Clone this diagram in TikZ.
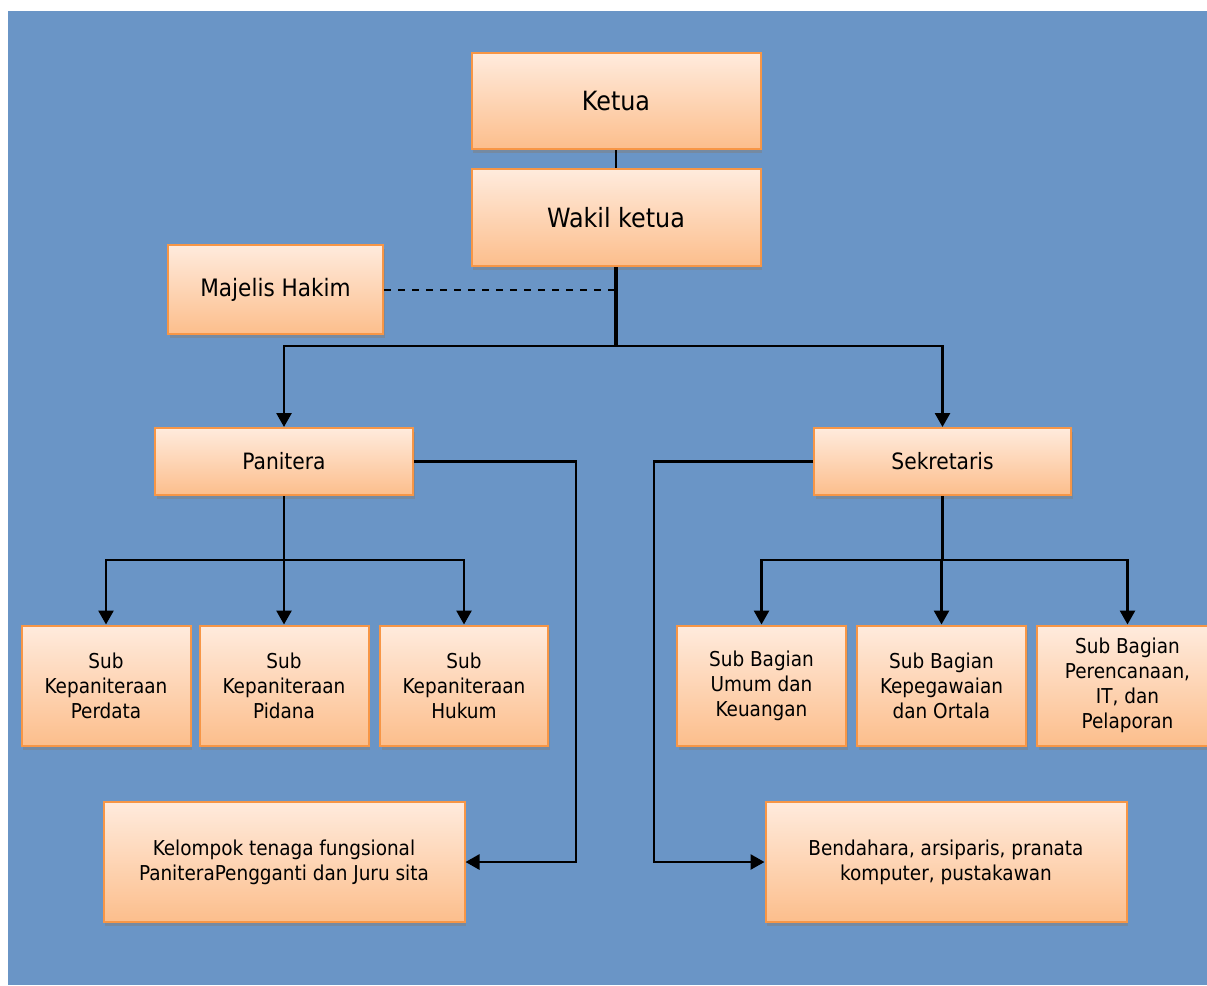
\documentclass[tikz,border=0pt]{standalone}
\usepackage{fontspec}
\setmainfont{DejaVu Sans Condensed}
\usetikzlibrary{arrows.meta, positioning, shadows}
\definecolor{chartBlue}{RGB}{106,149,198}
\definecolor{boxTop}{RGB}{255,235,221}
\definecolor{boxBottom}{RGB}{252,190,140}
\definecolor{boxEdge}{RGB}{247,150,70}
\tikzset{
    unit/.style={draw=boxEdge, line width=2pt, top color=boxTop, bottom color=boxBottom,
                 align=center, inner sep=2pt, font=\subfont,
                 drop shadow={opacity=0.5, shadow xshift=1.5pt, shadow yshift=-4pt}},
    head/.style={unit, font=\headfont},
    mid/.style={unit, font=\midfont},
    link/.style={line width=2.7pt},
    arrowlink/.style={link, -{Triangle[width=15pt,length=14pt]}}
}
\def\headfont{\fontsize{26.5}{31}\selectfont}
\def\midfont{\fontsize{22.5}{27}\selectfont}
\def\subfont{\fontsize{20.5}{25}\selectfont}

\begin{document}
\begin{tikzpicture}[x=1pt, y=-1pt]
    % Draw the background
    \useasboundingbox (0,0) rectangle (1207,985);
    \fill[chartBlue] (8,11) rectangle (1207,985);

    % Top of the chart
    \node[head, minimum width=289pt, minimum height=96pt] (ketua) at (616,101) {Ketua};
    \node[head, minimum width=289pt, minimum height=97pt] (wakil) at (616,217.5) {Wakil ketua};
    \node[mid, font=\fontsize{24}{28}\selectfont, minimum width=215pt, minimum height=89pt] (majelis) at (275.5,289.5) {Majelis Hakim};
    \node[mid, minimum width=258pt, minimum height=67pt] (panitera) at (284,461.5) {Panitera};
    \node[mid, minimum width=257pt, minimum height=67pt] (sekretaris) at (942.5,461.5) {Sekretaris};

    % Sub divisions
    \node[unit, minimum width=169pt, minimum height=120pt] (perdata) at (106,685.5) {Sub\\Kepaniteraan\\Perdata};
    \node[unit, minimum width=169pt, minimum height=120pt] (pidana) at (284,685.5) {Sub\\Kepaniteraan\\Pidana};
    \node[unit, minimum width=168pt, minimum height=120pt] (hukum) at (464,685.5) {Sub\\Kepaniteraan\\Hukum};
    \node[unit, minimum width=169pt, minimum height=120pt] (umum) at (761.5,685.5) {Sub Bagian\\Umum dan\\Keuangan};
    \node[unit, minimum width=169pt, minimum height=120pt] (kepeg) at (941.5,685.5) {Sub Bagian\\Kepegawaian\\dan Ortala};
    \node[unit, minimum width=181pt, minimum height=120pt] (perenc) at (1127.5,685.5) {Sub Bagian\\Perencanaan,\\IT, dan\\Pelaporan};

    % Functional groups
    \node[unit, minimum width=361pt, minimum height=120pt] (kelompok) at (284,862) {Kelompok tenaga fungsional\\PaniteraPengganti dan Juru sita};
    \node[unit, minimum width=361pt, minimum height=120pt] (bendahara) at (946,862) {Bendahara, arsiparis, pranata\\komputer, pustakawan};

    \coordinate (hub) at (616,346);
    \coordinate (pbus) at (284,560);
    \coordinate (sbus) at (942.5,560);

    % Connectors
    \draw[line width=1.5pt] (ketua) -- (wakil);
    \draw[line width=3.5pt] (wakil.south) -- (hub);
    \draw[line width=2pt, dash pattern=on 7pt off 7pt] (majelis.east) -- (majelis.east -| hub);
    \draw[arrowlink] (hub) -| (panitera.north);
    \draw[arrowlink] (hub) -| (sekretaris.north);

    \draw[link] (panitera.south) -- (pbus);
    \foreach \n in {perdata, pidana, hukum}
        \draw[arrowlink] (pbus) -| (\n.north);
    \draw[link] (sekretaris.south) -- (sbus);
    \foreach \n in {umum, kepeg, perenc}
        \draw[arrowlink] (sbus) -| (\n.north);

    \draw[arrowlink] (panitera.east) -- ++(162,0) |- (kelompok.east);
    \draw[arrowlink] (sekretaris.west) -- ++(-159,0) |- (bendahara.west);
\end{tikzpicture}
\end{document}
